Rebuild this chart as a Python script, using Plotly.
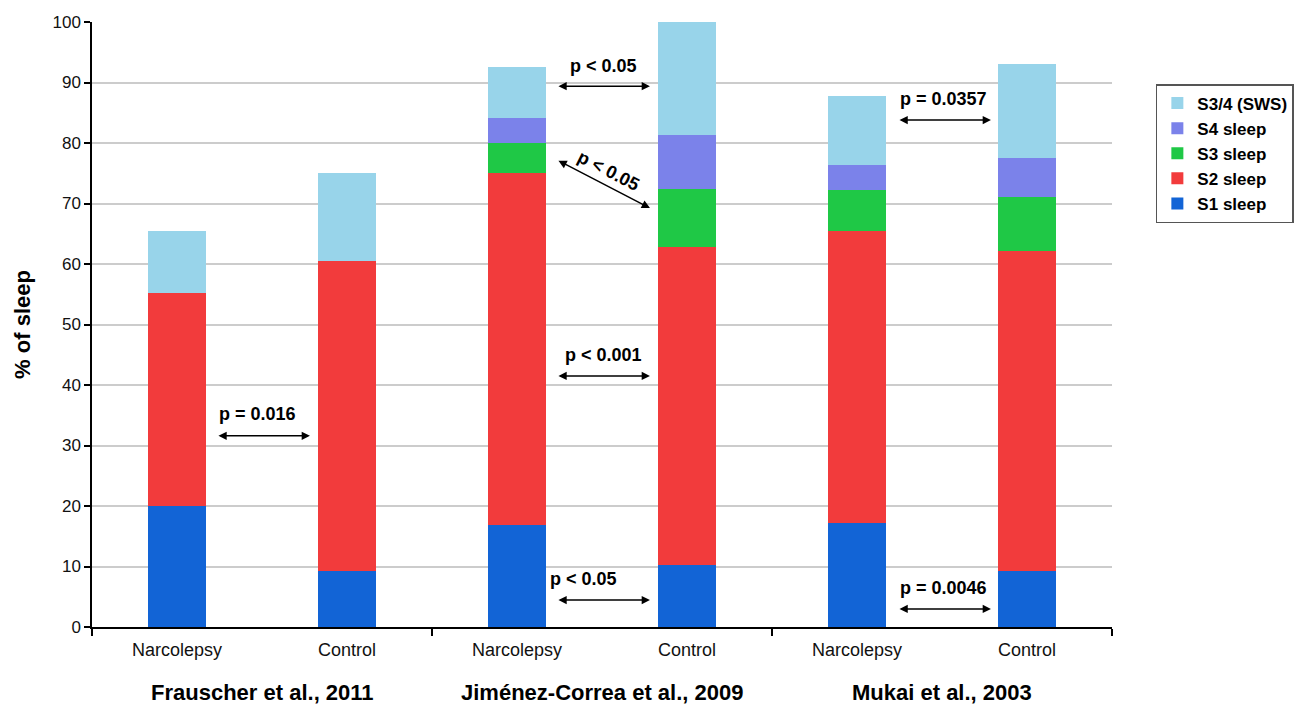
import plotly.graph_objects as go

# ---- data ----
studies = ["Frauscher et al., 2011", "Jiménez-Correa et al., 2009", "Mukai et al., 2003"]
groups = ["Narcolepsy", "Control", "Narcolepsy", "Control", "Narcolepsy", "Control"]
s1_sleep = [20.0, 9.2, 16.8, 10.2, 17.2, 9.2]
s2_sleep = [35.2, 51.3, 58.2, 52.6, 48.3, 52.9]
s3_sleep = [None, None, 5.0, 9.6, 6.8, 8.9]
s4_sleep = [None, None, 4.2, 9.0, 4.0, 6.6]
s34_sws = [10.3, 14.5, 8.3, 18.6, 11.4, 15.5]
y_ticks = [0, 10, 20, 30, 40, 50, 60, 70, 80, 90, 100]

# p-value comparisons: (label, x_from, x_to, y_from, y_to, text_x, text_y, angle)
comparisons = [
    ("p = 0.016", 0.235, 0.782, 31.6, 31.6, 0.476, 35.2, 0),
    ("p < 0.05", 2.235, 2.782, 89.4, 89.4, 2.51, 92.7, 0),
    ("p < 0.05", 2.235, 2.782, 77.2, 69.25, 2.54, 75.3, 27),
    ("p < 0.001", 2.235, 2.782, 41.5, 41.5, 2.51, 44.9, 0),
    ("p < 0.05", 2.235, 2.782, 4.46, 4.46, 2.39, 7.95, 0),
    ("p = 0.0357", 4.241, 4.788, 83.8, 83.8, 4.51, 87.2, 0),
    ("p = 0.0046", 4.241, 4.788, 2.98, 2.98, 4.51, 6.45, 0),
]

xpos = list(range(len(groups)))

series = [
    ("S1 sleep", s1_sleep, "#1264d6"),
    ("S2 sleep", s2_sleep, "#f23b3c"),
    ("S3 sleep", s3_sleep, "#1fc846"),
    ("S4 sleep", s4_sleep, "#7b82ea"),
    ("S3/4 (SWS)", s34_sws, "#98d4ea"),
]

fig = go.Figure()
for name, vals, col in series:
    fig.add_trace(go.Bar(
        x=xpos, y=vals, name=name, width=0.34,
        marker=dict(color=col, line=dict(width=0)),
    ))

FONT = "Liberation Sans, Arial, sans-serif"

annotations = []
for label, x0, x1, y0, y1, tx, ty, ang in comparisons:
    annotations.append(dict(
        x=x1, y=y1, ax=x0, ay=y0, xref="x", yref="y", axref="x", ayref="y",
        text="", showarrow=True, arrowhead=2, startarrowhead=2,
        arrowside="end+start", arrowsize=1.1, startarrowsize=1.1,
        arrowwidth=1.5, arrowcolor="black",
    ))
    annotations.append(dict(
        x=tx, y=ty, xref="x", yref="y", text=label, showarrow=False,
        textangle=ang, font=dict(family=FONT, size=18, color="black", weight="bold"),
    ))

for i, s in enumerate(studies):
    annotations.append(dict(
        x=2 * i + 0.5, y=-0.108, xref="x", yref="paper", text=s, showarrow=False,
        yanchor="middle",
        font=dict(family=FONT, size=22, color="black", weight="bold"),
    ))

fig.update_layout(
    width=1294, height=705,
    margin=dict(l=92, r=182, t=22, b=78, autoexpand=False),
    paper_bgcolor="white", plot_bgcolor="white",
    barmode="stack", bargap=0,
    font=dict(family=FONT, color="black"),
    showlegend=True,
    legend=dict(
        x=1.043, y=0.8975, xanchor="left", yanchor="top",
        traceorder="reversed",
        bordercolor="#555555", borderwidth=1.5,
        font=dict(family=FONT, size=17, color="black", weight="bold"),
        tracegroupgap=0, itemwidth=30,
    ),
    annotations=annotations,
    xaxis=dict(
        range=[-0.5, 5.5], tickmode="array", tickvals=xpos, ticktext=groups,
        ticks="", showgrid=False, zeroline=False,
        showline=True, linecolor="black", linewidth=1.5,
        tickfont=dict(family=FONT, size=18, color="#111111"),
        ticklabelstandoff=6,
        minor=dict(tickmode="array", tickvals=[-0.5, 1.5, 3.5, 5.5],
                   ticks="outside", ticklen=7, tickwidth=1.5, tickcolor="black",
                   showgrid=False),
    ),
    yaxis=dict(
        range=[0, 100], tickmode="array", tickvals=y_ticks,
        ticks="outside", ticklen=6, tickwidth=1.5, tickcolor="black",
        showline=True, linecolor="black", linewidth=1.5,
        showgrid=True, gridcolor="#cccccc", gridwidth=1.5, zeroline=False,
        tickfont=dict(family=FONT, size=17, color="#111111"),
        title=dict(text="% of sleep", standoff=16,
                   font=dict(family=FONT, size=22, color="black", weight="bold")),
    ),
)

fig.write_html("out.html")
